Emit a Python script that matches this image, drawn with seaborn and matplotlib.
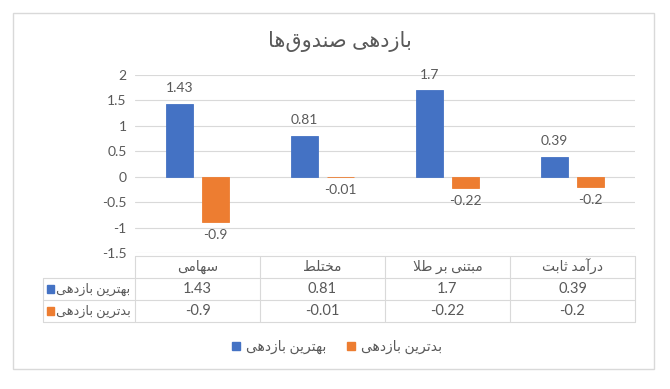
import matplotlib
matplotlib.use("Agg")
import matplotlib.pyplot as plt
import pandas as pd
import seaborn as sns
from matplotlib.patches import Patch, Rectangle

# داده‌ها
categories = ["سهامی", "مختلط", "مبتنی بر طلا", "درآمد ثابت"]
series_names = ["بهترین بازدهی", "بدترین بازدهی"]
best = [1.43, 0.81, 1.7, 0.39]
worst = [-0.9, -0.01, -0.22, -0.2]
title = "بازدهی صندوق‌ها"
yticks = [-1.5, -1, -0.5, 0, 0.5, 1, 1.5, 2]
colors = ["#4472C4", "#ED7D31"]
text_color = "#595959"
grid_color = "#D9D9D9"

# matplotlib شکل‌دهی حروف عربی را انجام نمی‌دهد، پس دستی
FORMS = {
    'ا': ('\uFE8D', '\uFE8E', None, None),
    'آ': ('\uFE81', '\uFE82', None, None),
    'ب': ('\uFE8F', '\uFE90', '\uFE91', '\uFE92'),
    'ت': ('\uFE95', '\uFE96', '\uFE97', '\uFE98'),
    'ث': ('\uFE99', '\uFE9A', '\uFE9B', '\uFE9C'),
    'خ': ('\uFEA5', '\uFEA6', '\uFEA7', '\uFEA8'),
    'د': ('\uFEA9', '\uFEAA', None, None),
    'ر': ('\uFEAD', '\uFEAE', None, None),
    'ز': ('\uFEAF', '\uFEB0', None, None),
    'س': ('\uFEB1', '\uFEB2', '\uFEB3', '\uFEB4'),
    'ص': ('\uFEB9', '\uFEBA', '\uFEBB', '\uFEBC'),
    'ط': ('\uFEC1', '\uFEC2', '\uFEC3', '\uFEC4'),
    'ق': ('\uFED5', '\uFED6', '\uFED7', '\uFED8'),
    'ل': ('\uFEDD', '\uFEDE', '\uFEDF', '\uFEE0'),
    'م': ('\uFEE1', '\uFEE2', '\uFEE3', '\uFEE4'),
    'ن': ('\uFEE5', '\uFEE6', '\uFEE7', '\uFEE8'),
    'ه': ('\uFEE9', '\uFEEA', '\uFEEB', '\uFEEC'),
    'و': ('\uFEED', '\uFEEE', None, None),
    '\u06CC': ('\uFBFC', '\uFBFD', '\uFBFE', '\uFBFF'),
}
LAM_ALEF = {'ا': ('\uFEFB', '\uFEFC'), 'آ': ('\uFEF5', '\uFEF6')}


def fa(s):
    """شکل‌دهی و برعکس کردن متن فارسی برای نمایش."""
    s = s.replace('\u064A', '\u06CC')
    n = len(s)
    out = []
    i = 0
    while i < n:
        c = s[i]
        if c not in FORMS:
            if c != '\u200c':
                out.append(c)
            i += 1
            continue
        prev = s[i - 1] if i > 0 else None
        conn_prev = prev in FORMS and FORMS[prev][2] is not None
        if c == 'ل' and i + 1 < n and s[i + 1] in LAM_ALEF:
            lig = LAM_ALEF[s[i + 1]]
            out.append(lig[1] if conn_prev else lig[0])
            i += 2
            continue
        nxt = s[i + 1] if i + 1 < n else None
        conn_next = FORMS[c][2] is not None and nxt in FORMS
        iso, fin, ini, med = FORMS[c]
        if conn_prev and conn_next:
            out.append(med)
        elif conn_prev:
            out.append(fin)
        elif conn_next:
            out.append(ini)
        else:
            out.append(iso)
        i += 1
    return ''.join(reversed(out))


sns.set_style("white")
plt.rcParams['font.family'] = ['Lato', 'DejaVu Sans']

df = pd.DataFrame({
    "category": categories * 2,
    "series": [series_names[0]] * 4 + [series_names[1]] * 4,
    "value": best + worst,
})

W, H = 670, 389
fig = plt.figure(figsize=(W / 100, H / 100), dpi=100)

# کادر دور نمودار
fig.patches.append(Rectangle((13 / W, 1 - 369 / H), 641 / W, 356 / H,
                             transform=fig.transFigure, fill=False,
                             ec=grid_color, lw=1))

ax = fig.add_axes([135 / W, 1 - 253 / H, 500 / W, 178 / H])
sns.barplot(data=df, x="category", y="value", hue="series",
            palette=colors, width=0.576, gap=0.25, ax=ax, legend=False,
            saturation=1)
for cont, col in zip(ax.containers, colors):
    for bar in cont:
        bar.set_edgecolor(col)
        bar.set_linewidth(0.6)

ax.set_xlim(-0.5, 3.5)
ax.set_ylim(-1.5, 2)
ax.set_yticks(yticks)
ax.set_yticklabels([f"{t:g}" for t in yticks])
ax.tick_params(axis='y', length=0, pad=6, labelsize=10, labelcolor=text_color)
ax.tick_params(axis='x', length=0, labelbottom=False)
ax.set_xlabel("")
ax.set_ylabel("")
ax.yaxis.grid(True, color=grid_color, lw=0.8)
ax.set_axisbelow(True)
sns.despine(ax=ax, left=True, bottom=True)

for cont, pad in zip(ax.containers, [7, 5]):
    ax.bar_label(cont, fmt="%g", padding=pad, fontsize=10, color=text_color)

# عنوان
fig.text(340 / W, 1 - 42 / H, fa(title), ha='center', va='center',
         fontsize=15, color=text_color)

# جدول داده
label_w = (135 - 43) / 125
tax = fig.add_axes([43 / W, 1 - 322 / H, 592 / W, 66 / H])
tax.set_xlim(-0.5 - label_w, 3.5)
tax.set_ylim(3, 0)
tax.axis('off')
lk = dict(color=grid_color, lw=0.8, clip_on=False)
tax.plot([-0.5, 3.5], [0, 0], **lk)
for r in [1, 2, 3]:
    tax.plot([-0.5 - label_w, 3.5], [r, r], **lk)
for x in [-0.5, 0.5, 1.5, 2.5, 3.5]:
    tax.plot([x, x], [0, 3], **lk)
tax.plot([-0.5 - label_w, -0.5 - label_w], [1, 3], **lk)

for i, cat in enumerate(categories):
    tax.text(i, 0.5, fa(cat), ha='center', va='center', fontsize=10,
             color=text_color)
    for r, vals in enumerate([best, worst], start=1):
        tax.text(i, r + 0.5, f"{vals[i]:g}", ha='center', va='center',
                 fontsize=10.5, color=text_color)

for r, (name, col) in enumerate(zip(series_names, colors), start=1):
    x0 = -0.5 - label_w
    tax.add_patch(Rectangle((x0 + 0.03, r + 0.34), 0.056, 0.32,
                            color=col, clip_on=False))
    tax.text(-0.535, r + 0.5, fa(name), ha='right', va='center',
             fontsize=9.3, color=text_color)

# راهنما
handles = [Patch(color=c) for c in colors]
fig.legend(handles, [fa(n) for n in series_names], loc='center',
           bbox_to_anchor=(337 / W, 1 - 347 / H), ncol=2, frameon=False,
           handlelength=0.6, handleheight=0.6, handletextpad=0.4,
           columnspacing=1.5, fontsize=10, labelcolor=text_color)

fig.savefig("out.png", dpi=100)
